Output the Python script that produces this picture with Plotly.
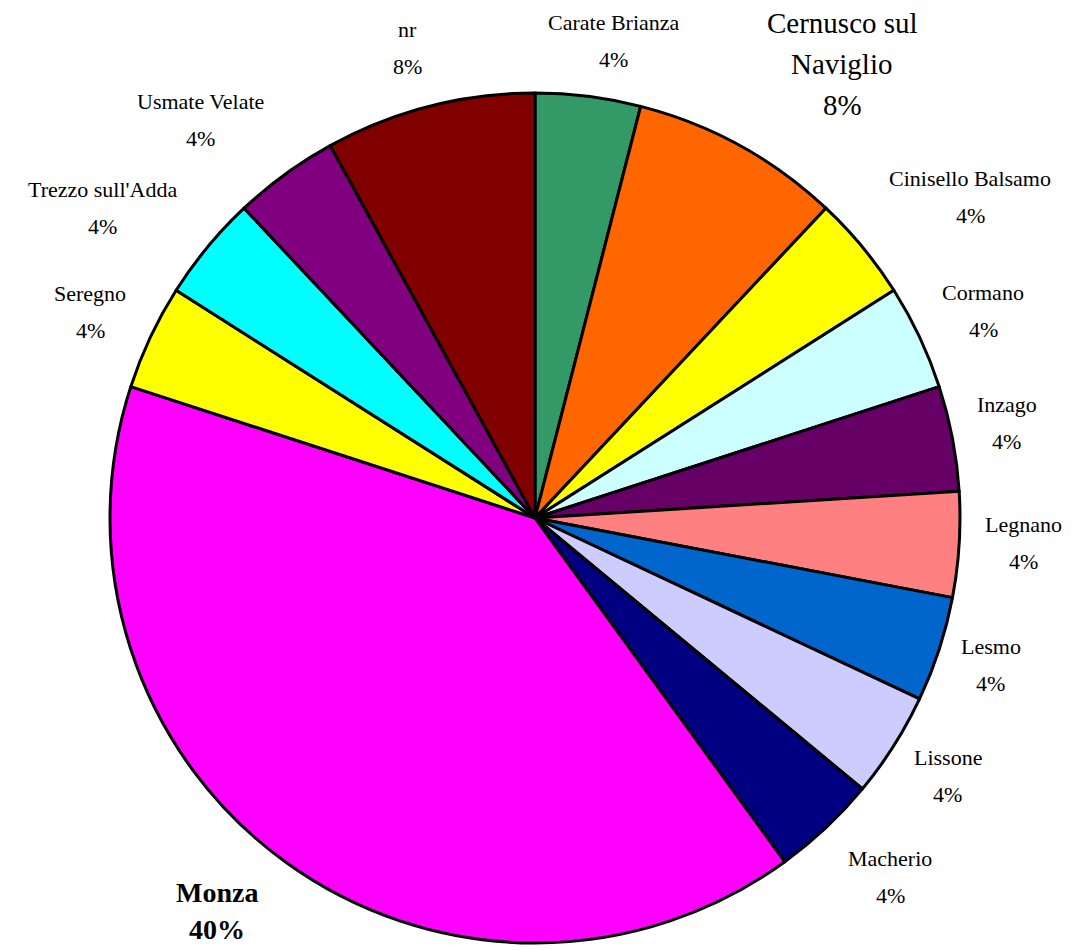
import math
import plotly.graph_objects as go

# ---- data ----
categories = ["Carate Brianza", "Cernusco sul Naviglio", "Cinisello Balsamo", "Cormano",
              "Inzago", "Legnano", "Lesmo", "Lissone", "Macherio", "Monza",
              "Seregno", "Trezzo sull'Adda", "Usmate Velate", "nr"]
counts = [1, 2, 1, 1, 1, 1, 1, 1, 1, 10, 1, 1, 1, 2]
label_lines = [["Carate Brianza"], ["Cernusco sul", "Naviglio"], ["Cinisello Balsamo"], ["Cormano"],
               ["Inzago"], ["Legnano"], ["Lesmo"], ["Lissone"], ["Macherio"], ["Monza"],
               ["Seregno"], ["Trezzo sull'Adda"], ["Usmate Velate"], ["nr"]]

# ---- styles / layout ----
colors = ["#339966", "#FF6600", "#FFFF00", "#CCFFFF", "#660066", "#FF8080", "#0066CC",
          "#CCCCFF", "#000080", "#FF00FF", "#FFFF00", "#00FFFF", "#800080", "#800000"]
OFF = 8  # page body margin
W, H = 1074 - OFF, 950 - OFF
CX, CY, R = 535 - OFF, 518 - OFF, 425
label_r = [483, 548, 541, 494, 481, 489, 479, 487, 505, 506, 490, 532, 520, 487]
label_dtheta = [2.2, 5.3, 3.2, 0.4, -0.6, -0.7, -0.1, -0.4, -1.5, 3.0, -0.4, -3.9, -4.1, -0.8]
big = {"Cernusco sul Naviglio": dict(size=29, bold=False, gap=41),
       "Monza": dict(size=28, bold=True, gap=37)}
small = dict(size=22, bold=False, gap=37)

fig = go.Figure(go.Pie(
    labels=categories, values=counts, sort=False, direction="clockwise", rotation=0,
    marker=dict(colors=colors, line=dict(color="black", width=3)),
    textinfo="none", hoverinfo="label+percent", showlegend=False,
    domain=dict(x=[(CX - R) / W, (CX + R) / W], y=[(H - CY - R) / H, (H - CY + R) / H]),
))

total = sum(counts)
cum = 0
annotations = []
for i, (cat, v) in enumerate(zip(categories, counts)):
    mid = (cum + v / 2) / total * 360.0
    cum += v
    th = math.radians(mid + label_dtheta[i])
    px = CX + label_r[i] * math.sin(th)
    py = CY - label_r[i] * math.cos(th)
    st = big.get(cat, small)
    pct = f"{round(v / total * 100)}%"
    lines = label_lines[i] + [pct]
    n = len(lines)
    for k, line in enumerate(lines):
        ly = py + (k - (n - 1) / 2) * st["gap"]
        txt = f"<b>{line}</b>" if st["bold"] else line
        annotations.append(dict(
            x=px / W, y=1 - ly / H, xref="paper", yref="paper",
            text=txt, showarrow=False, xanchor="center", yanchor="middle",
            font=dict(family="Liberation Serif, Times New Roman, serif", size=st["size"], color="black"),
        ))

fig.update_layout(
    width=W, height=H, margin=dict(l=0, r=0, t=0, b=0),
    paper_bgcolor="white", plot_bgcolor="white",
    annotations=annotations,
)
fig.write_html("out.html")
